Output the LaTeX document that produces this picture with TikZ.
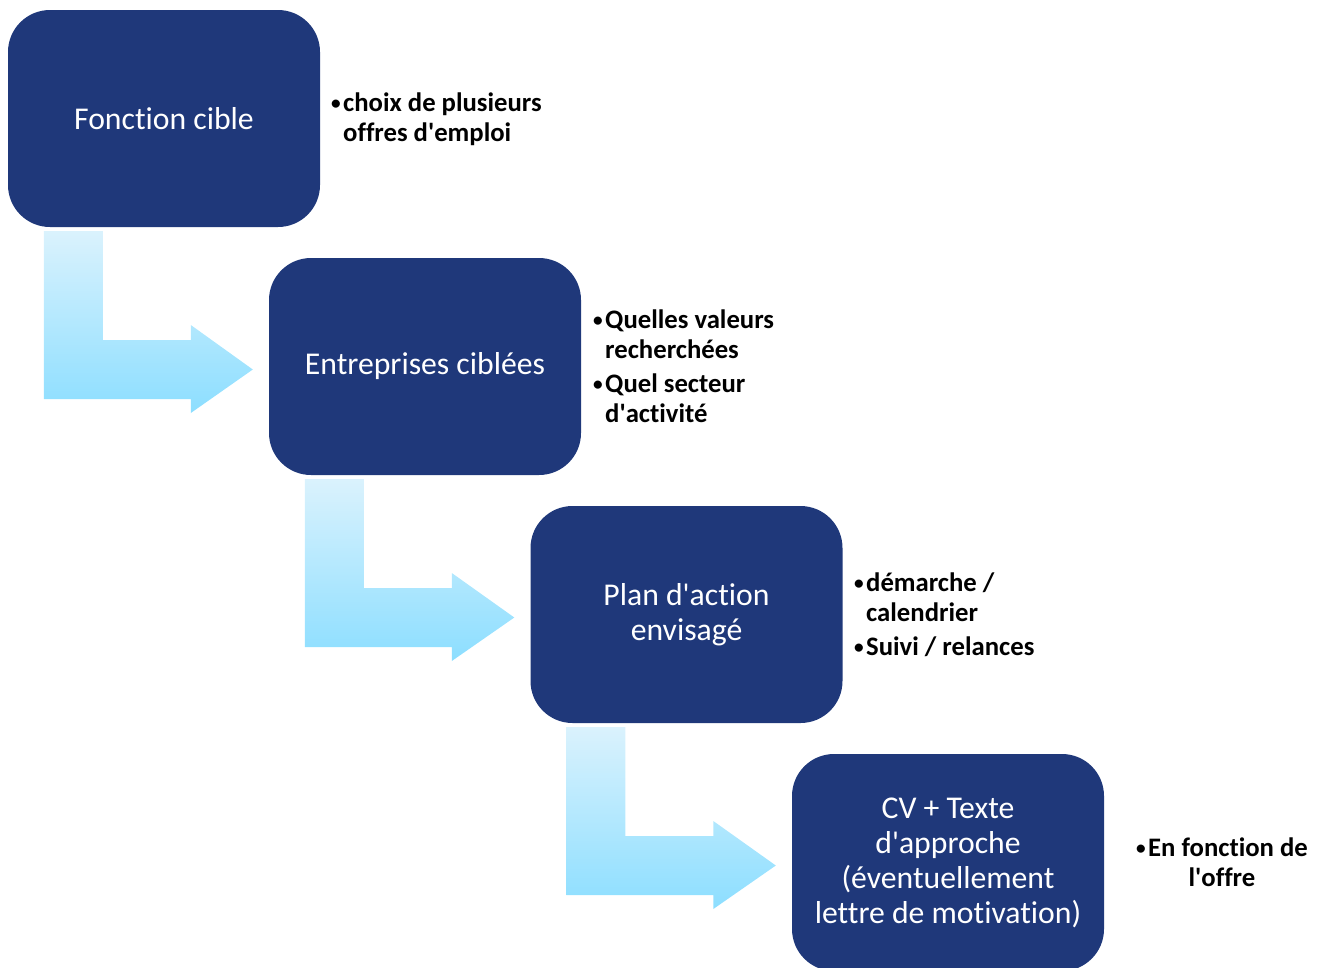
\documentclass[tikz,border=0pt]{standalone}
\usepackage{fontspec}
\setmainfont{Carlito}[Ligatures={NoCommon}]
\usetikzlibrary{calc}
\definecolor{boxblue}{RGB}{31,56,122}
\definecolor{arrtop}{RGB}{218,242,253}
\definecolor{arrbot}{RGB}{140,222,255}
\newcommand\bul{\makebox[12pt][l]{\raisebox{1.8pt}{\scalebox{0.72}{•}}}}
\newcommand\ind{\hspace*{12pt}}
\newcommand\ap{\textquotesingle}
\newcommand\blockarrow[2]{%
  \path[arrowshade] let \p1=(#1.south west), \p2=(#2.west) in
    (\x1+36pt,\y1-4pt) -- (\x1+95pt,\y1-4pt) -- (\x1+95pt,\y2+26.5pt)
    -- (\x1+183pt,\y2+26.5pt) -- (\x1+183pt,\y2+41.5pt) -- (\x2-16pt,\y2-3pt)
    -- (\x1+183pt,\y2-46.5pt) -- (\x1+183pt,\y2-32.5pt) -- (\x1+36pt,\y2-32.5pt) -- cycle;}
\begin{document}
\begin{tikzpicture}[x=1pt,y=-1pt,
  stagebox/.style={fill=boxblue, rounded corners=42pt, minimum width=312pt,
    minimum height=217pt, text=white, align=center,
    font=\fontsize{31.7}{35}\selectfont, inner sep=0pt},
  note/.style={anchor=west, align=left, text=black,
    font=\bfseries\fontsize{26.7}{30}\selectfont, inner sep=0pt},
  arrowshade/.style={top color=arrtop, bottom color=arrbot}]
\useasboundingbox (0,0) rectangle (1322,967);

\node[stagebox] (b1) at (164,118.5) {Fonction cible};
\node[stagebox] (b2) at (425,366.5) {Entreprises ciblées};
\node[stagebox] (b3) at (686.5,614.5) {Plan d\ap action\\envisagé};
\node[stagebox] (b4) at (948,862.5) {CV + Texte\\d\ap approche\\(éventuellement\\lettre de motivation)};

\node[note] (n1) at (331,119) {\bul choix de plusieurs\\\ind offres d\ap emploi};
\node[note] (n2) at (593,366.5) {\bul Quelles valeurs\\\ind recherchées\\[4pt]\bul Quel secteur\\\ind d\ap activité};
\node[note] (n3) at (854,614.5) {\bul démarche /\\\ind calendrier\\[4pt]\bul Suivi / relances};
\node[note, align=center] (n4) at (1136,862.5) {\bul En fonction de\\l\ap offre};

\blockarrow{b1}{b2}
\blockarrow{b2}{b3}
\blockarrow{b3}{b4}
\end{tikzpicture}
\end{document}
